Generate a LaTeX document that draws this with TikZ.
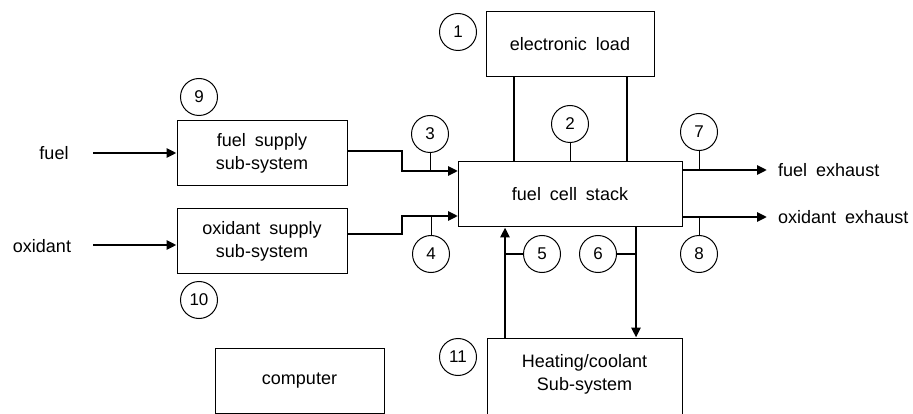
\documentclass[tikz,border=0pt]{standalone}
\usepackage{fontspec}
\setmainfont{Liberation Sans}[WordSpace={1.8}]
\usetikzlibrary{arrows.meta,calc}
\begin{document}
\begin{tikzpicture}[x=1pt,y=-1pt,
  box/.style={draw,line width=1pt,inner sep=0pt,align=center,font=\fontsize{18}{23}\selectfont},
  num/.style={draw,circle,line width=1pt,minimum size=37pt,inner sep=0pt,font=\fontsize{17}{17}\selectfont},
  lab/.style={font=\fontsize{18}{22}\selectfont,inner sep=0pt},
  thk/.style={line width=2.8pt},
  thka/.style={line width=2.8pt,-{Triangle[length=10pt,width=9pt]}},
  thin/.style={line width=1pt}]
\clip (0,0) rectangle (913,414);
% boxes
\node[box,minimum width=168pt,minimum height=65pt] (load) at (570,44.5) {electronic load};
\node[box,minimum width=224pt,minimum height=65pt] (stack) at (570,194.5) {fuel cell stack};
\node[box,minimum width=170pt,minimum height=65pt] (fuelsup) at (262,153.5) {fuel supply\\sub-system};
\node[box,minimum width=170pt,minimum height=64pt] (oxsup) at (262,241) {oxidant supply\\sub-system};
\node[box,minimum width=195pt,minimum height=100pt] (heat) at (584.5,388) {};
\node[lab,align=center,font=\fontsize{18}{23}\selectfont] (heattxt) at (584.5,374) {Heating/coolant\\Sub-system};
\node[box,minimum width=169pt,minimum height=65pt] (comp) at (299.5,380.5) {computer};
% numbers
\node[num] (c1) at (458,32) {1};
\node[num] (c2) at (570,124) {2};
\node[num] (c3) at (430,134) {3};
\node[num] (c4) at (431,254) {4};
\node[num] (c5) at (542,254) {5};
\node[num] (c6) at (598,254) {6};
\node[num] (c7) at (699,132) {7};
\node[num] (c8) at (699,254) {8};
\node[num] (c9) at (199,97) {9};
\node[num] (c10) at (199,300) {10};
\node[num] (c11) at (458,357) {11};
% labels
\node[lab] (fuel) at (54,153) {fuel};
\node[lab] (oxidant) at (42,246) {oxidant};
\node[lab,anchor=west] (felab) at (778,170) {fuel exhaust};
\node[lab,anchor=west] (oelab) at (778,217) {oxidant exhaust};
% coordinates
\coordinate (fin) at (93,153);
\coordinate (oin) at (93,245);
\coordinate (fout) at (347,151);
\coordinate (oout) at (347,234);
\coordinate (in3) at (458,171);
\coordinate (in4) at (458,216);
\coordinate (fe) at (767,170);
\coordinate (oe) at (767,217);
\coordinate (xl1) at (514,0);
\coordinate (xl2) at (627,0);
\coordinate (xup) at (505,0);
\coordinate (xdn) at (636,0);
% connectors
\draw[thka] (fin) -- (fin -| fuelsup.west);
\draw[thka] (oin) -- (oin -| oxsup.west);
\draw[thka] (fout) -- ++(55,0) |- (in3);
\draw[thka] (oout) -- ++(55,0) |- (in4);
\draw[thk] (load.south -| xl1) -- (stack.north -| xl1);
\draw[thk] (load.south -| xl2) -- (stack.north -| xl2);
\draw[thka] (heat.north -| xup) -- (stack.south -| xup);
\draw[thka] (stack.south -| xdn) -- (heat.north -| xdn);
\draw[thka] (stack.east |- fe) -- (fe);
\draw[thka] (stack.east |- oe) -- (oe);
% leader lines
\draw[thin] (c2) -- (c2 |- stack.north);
\draw[thin] (c3.south) -- (c3 |- in3);
\draw[thin] (c4.north) -- (c4 |- in4);
\draw[thin] (c5.west) -- (c5 -| xup);
\draw[thin] (c6.east) -- (c6 -| xdn);
\draw[thin] (c7.south) -- (c7 |- fe);
\draw[thin] (c8.north) -- (c8 |- oe);
\end{tikzpicture}
\end{document}
